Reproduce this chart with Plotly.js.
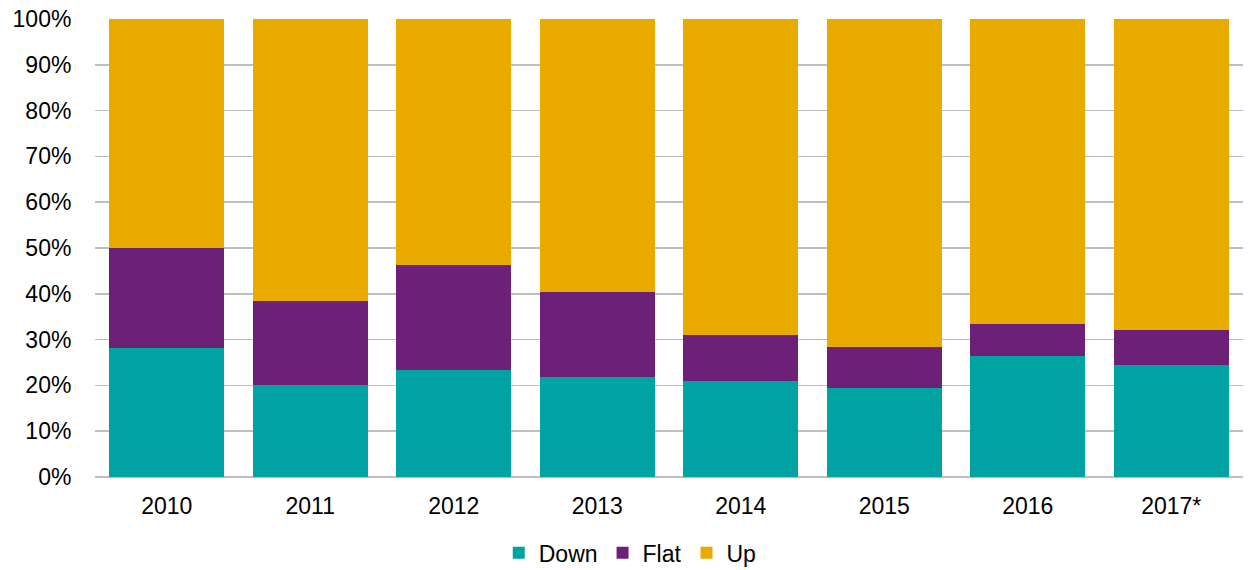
<!DOCTYPE html>
<html>
<head>
<meta charset="utf-8">
<script src="https://cdn.plot.ly/plotly-3.0.1.min.js"></script>
<style>html,body{margin:0;padding:0;background:#fff;}#chart{width:1248px;height:570px;}</style>
</head>
<body>
<div id="chart"></div>
<script>
const categories = ['2010','2011','2012','2013','2014','2015','2016','2017*'];
const down = [28.2, 20.0, 23.4, 21.8, 20.9, 19.4, 26.4, 24.4];
const flat = [21.8, 18.4, 22.9, 18.7, 10.1, 9.0, 7.0, 7.6];
const up   = [50.0, 61.6, 53.7, 59.5, 69.0, 71.6, 66.6, 68.0];
const yTicks = [0,10,20,30,40,50,60,70,80,90,100];

const font = {family: 'Liberation Sans, Arial, sans-serif', size: 23, color: '#000'};
const traces = [
  {name: 'Down', y: down, color: '#00A3A1'},
  {name: 'Flat', y: flat, color: '#6C2078'},
  {name: 'Up', y: up, color: '#E9AB00'}
].map(s => ({
  type: 'bar', x: categories, y: s.y, name: s.name,
  marker: {color: s.color, line: {width: 0}},
  hoverinfo: 'skip'
}));

const layout = {
  width: 1248, height: 570,
  margin: {l: 95, r: 5, t: 19, b: 93},
  barmode: 'stack', bargap: 0.2,
  paper_bgcolor: '#fff', plot_bgcolor: '#fff',
  font: font,
  showlegend: true,
  legend: {orientation: 'h', xref: 'container', x: 0.505, xanchor: 'center',
           yref: 'container', y: 0.03, yanchor: 'middle', font: font,
           itemwidth: 30, tracegroupgap: 0, traceorder: 'normal'},
  xaxis: {type: 'category', showgrid: false, zeroline: false, showline: false,
          ticks: 'outside', ticklen: 8, tickcolor: 'rgba(0,0,0,0)', tickfont: font},
  yaxis: {range: [0, 100], tickvals: yTicks, ticktext: yTicks.map(v => v + '%'),
          showgrid: true, gridcolor: '#bfbfbf', gridwidth: 1.6,
          zeroline: true, zerolinecolor: '#bfbfbf', zerolinewidth: 1.6,
          showline: false, ticks: 'outside', ticklen: 18, tickcolor: 'rgba(0,0,0,0)',
          tickfont: font}
};
Plotly.newPlot('chart', traces, layout, {displayModeBar: false, staticPlot: true});
</script>
</body>
</html>
